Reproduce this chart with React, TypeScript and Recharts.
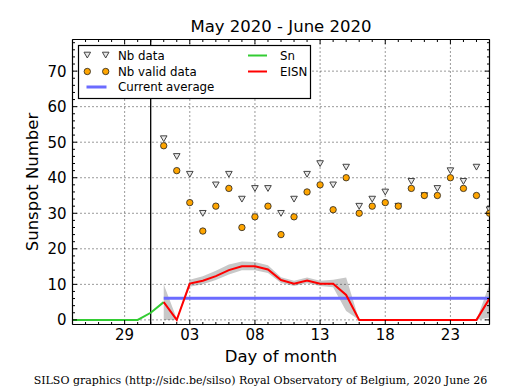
import React from 'react';
import { ComposedChart, Line, Area, Scatter, XAxis, YAxis, ReferenceLine } from 'recharts';

// Day index 0 = May 25 ... 32 = June 26
const dayLabels: Record<number, string> = { 4: '29', 9: '03', 14: '08', 19: '13', 24: '18', 29: '23' };
const majorXTicks = [4, 9, 14, 19, 24, 29];
const minorXTicks = Array.from({ length: 33 }, (_, i) => i);
const majorYTicks = [0, 10, 20, 30, 40, 50, 60, 70];
const minorYTicks = Array.from({ length: 40 }, (_, i) => i * 2);

// Sn (green) May 25 .. June 1
const snValues = [0, 0, 0, 0, 0, 0, 2, 5];
// June 1 .. June 26
const eisnValues = [5, 0, 10.2, 11, 12.3, 14, 15.1, 15.1, 14.2, 11.2, 10.2, 11.1, 10.2, 10.2, 7, 0, 0, 0, 0, 0, 0, 0, 0, 0, 0, 6];
const bandLow = [0, 0, 9.3, 10, 11.2, 12.8, 14, 14, 13.2, 10.4, 9.5, 10.3, 9.5, 9.2, 2.5, 0, 0, 0, 0, 0, 0, 0, 0, 0, 0, 0.7];
const bandHigh = [10, 0.3, 11.3, 12.3, 13.8, 15.6, 16.4, 16.3, 15.4, 12, 11, 11.9, 11, 11.3, 11.9, 0, 0, 0, 0, 0, 0, 0, 0, 0, 0, 10];
const nbData = [51, 46, 41, 30, 38, 41, 34, 37, 37, 30, 34, 41, 44, 38, 43, 32, 34, 36, 32, 39, 35, 37, 42, 39, 43, 31];
const nbValid = [49, 42, 33, 25, 32, 37, 26, 29, 32, 24, 29, 36, 38, 31, 40, 30, 32, 33, 32, 37, 35, 35, 40, 37, 35, 30];
const currentAverage = 6.1;
const firstJuneIdx = 7;
const monthBoundary = 6;

const rows = minorXTicks.map((x) => {
  const j = x - firstJuneIdx;
  const inJune = j >= 0 && j < eisnValues.length;
  return {
    x,
    sn: x < snValues.length ? snValues[x] : null,
    eisn: inJune ? eisnValues[j] : null,
    band: inJune ? [bandLow[j], bandHigh[j]] : null,
    avg: inJune ? currentAverage : null,
  };
});
const nbPoints = nbData.map((y, j) => ({ x: j + firstJuneIdx, y }));
const nbValidPoints = nbValid.map((y, j) => ({ x: j + firstJuneIdx, y }));

const FONT = 'DejaVu Sans';

const makeTick = (side: string, majors: number[], labels?: (v: number) => string | null) => (props: any) => {
  const { x, y, payload } = props;
  const v = payload.value;
  const major = majors.includes(v);
  const len = major ? 4.5 : 2.5;
  let line: any = null;
  if (side === 'bottom') line = <line x1={x} y1={y} x2={x} y2={y - len} stroke="#000" />;
  if (side === 'top') line = <line x1={x} y1={y} x2={x} y2={y + len} stroke="#000" />;
  if (side === 'left') line = <line x1={x} y1={y} x2={x + len} y2={y} stroke="#000" />;
  if (side === 'right') line = <line x1={x} y1={y} x2={x - len} y2={y} stroke="#000" />;
  const label = major && labels ? labels(v) : null;
  let text: any = null;
  if (label != null) {
    if (side === 'bottom')
      text = (
        <text x={x} y={y + 15.5} textAnchor="middle" fontFamily={FONT} fontSize={15} fill="#000">
          {label}
        </text>
      );
    if (side === 'left')
      text = (
        <text x={x - 6} y={y + 5.4} textAnchor="end" fontFamily={FONT} fontSize={15} fill="#000">
          {label}
        </text>
      );
  }
  return (
    <g>
      {line}
      {text}
    </g>
  );
};

const triangle = (props: any) => {
  const { cx, cy } = props;
  if (cx == null || cy == null) return <g />;
  return <path d={`M${cx - 3.3},${cy - 2.8} L${cx + 3.3},${cy - 2.8} L${cx},${cy + 3} Z`} fill="#e8e8e8" stroke="#444" strokeWidth={1} />;
};
const circle = (props: any) => {
  const { cx, cy } = props;
  if (cx == null || cy == null) return <g />;
  return <circle cx={cx} cy={cy} r={3.2} fill="#ffa500" stroke="#222" strokeWidth={0.8} />;
};

export default function App() {
  return (
    <div style={{ position: 'absolute', left: 0, top: 0, width: 515, height: 390, background: '#fff' }}>
      <ComposedChart width={515} height={390} data={rows} margin={{ top: 29.5, right: 15.5, bottom: 35.5, left: 32.5 }}>
        <XAxis
          xAxisId="b"
          dataKey="x"
          type="number"
          domain={[0, 32]}
          ticks={minorXTicks}
          interval={0}
          height={30}
          tickSize={0}
          tickMargin={0}
          tickLine={false}
          axisLine={{ stroke: '#000', strokeWidth: 1.2 }}
          tick={makeTick('bottom', majorXTicks, (v) => dayLabels[v] ?? null)}
          allowDataOverflow
        />
        <XAxis
          xAxisId="t"
          orientation="top"
          dataKey="x"
          type="number"
          domain={[0, 32]}
          ticks={minorXTicks}
          interval={0}
          height={10}
          tickSize={0}
          tickMargin={0}
          tickLine={false}
          axisLine={{ stroke: '#000', strokeWidth: 1.2 }}
          tick={makeTick('top', majorXTicks)}
          allowDataOverflow
        />
        <YAxis
          yAxisId="l"
          type="number"
          domain={[-1.3, 78.9]}
          ticks={minorYTicks}
          interval={0}
          width={40}
          tickSize={0}
          tickMargin={0}
          tickLine={false}
          axisLine={{ stroke: '#000', strokeWidth: 1.2 }}
          tick={makeTick('left', majorYTicks, (v) => String(v))}
          allowDataOverflow
        />
        <YAxis
          yAxisId="r"
          orientation="right"
          type="number"
          domain={[-1.3, 78.9]}
          ticks={minorYTicks}
          interval={0}
          width={10}
          tickSize={0}
          tickMargin={0}
          tickLine={false}
          axisLine={{ stroke: '#000', strokeWidth: 1.2 }}
          tick={makeTick('right', majorYTicks)}
          allowDataOverflow
        />
        {majorXTicks.map((v) => (
          <ReferenceLine key={'gx' + v} xAxisId="b" yAxisId="l" x={v} stroke="#000" strokeWidth={0.8} strokeDasharray="1 3" />
        ))}
        {majorYTicks.map((v) => (
          <ReferenceLine key={'gy' + v} xAxisId="b" yAxisId="l" y={v} stroke="#000" strokeWidth={0.8} strokeDasharray="1 3" />
        ))}
        <ReferenceLine xAxisId="b" yAxisId="l" x={monthBoundary} stroke="#000" strokeWidth={1.3} />
        <Area xAxisId="b" yAxisId="l" dataKey="band" type="linear" stroke="none" fill="#c8c8c8" fillOpacity={1} isAnimationActive={false} connectNulls={false} />
        <Line xAxisId="b" yAxisId="l" dataKey="avg" type="linear" stroke="#6b6bff" strokeWidth={3} dot={false} isAnimationActive={false} />
        <Line xAxisId="b" yAxisId="l" dataKey="sn" type="linear" stroke="#33cc33" strokeWidth={2} dot={false} isAnimationActive={false} />
        <Line xAxisId="b" yAxisId="l" dataKey="eisn" type="linear" stroke="#ff0000" strokeWidth={2} dot={false} isAnimationActive={false} />
        <Scatter xAxisId="b" yAxisId="l" data={nbPoints} dataKey="y" shape={triangle} isAnimationActive={false} />
        <Scatter xAxisId="b" yAxisId="l" data={nbValidPoints} dataKey="y" shape={circle} isAnimationActive={false} />
      </ComposedChart>
      <svg width={515} height={390} style={{ position: 'absolute', left: 0, top: 0, pointerEvents: 'none' }}>
        <text x={281} y={31.5} textAnchor="middle" fontFamily={FONT} fontSize={16.5} fill="#000">
          May 2020 - June 2020
        </text>
        <text x={281} y={362} textAnchor="middle" fontFamily={FONT} fontSize={16.5} fill="#000">
          Day of month
        </text>
        <text transform="translate(38,182) rotate(-90)" x={0} y={0} textAnchor="middle" fontFamily={FONT} fontSize={16.5} fill="#000">
          Sunspot Number
        </text>
        <text x={260.5} y={384} textAnchor="middle" fontFamily="DejaVu Serif" fontSize={11} fill="#000">
          SILSO graphics (http://sidc.be/silso) Royal Observatory of Belgium, 2020 June 26
        </text>
        <g>
          <rect x={78.5} y={45.5} width={232} height={53} fill="#fff" stroke="#000" strokeWidth={1.2} />
          <path d="M84,52.2 L90.6,52.2 L87.3,58 Z" fill="#e8e8e8" stroke="#444" />
          <path d="M102.4,52.2 L109,52.2 L105.7,58 Z" fill="#e8e8e8" stroke="#444" />
          <text x={118} y={59.5} fontFamily={FONT} fontSize={11.8} fill="#000">Nb data</text>
          <circle cx={87.3} cy={71.5} r={3.2} fill="#ffa500" stroke="#222" strokeWidth={0.8} />
          <circle cx={105.7} cy={71.5} r={3.2} fill="#ffa500" stroke="#222" strokeWidth={0.8} />
          <text x={118} y={75.8} fontFamily={FONT} fontSize={11.8} fill="#000">Nb valid data</text>
          <line x1={86.5} y1={87} x2={106.5} y2={87} stroke="#6b6bff" strokeWidth={3} />
          <text x={118} y={91.3} fontFamily={FONT} fontSize={11.8} fill="#000">Current average</text>
          <line x1={248} y1={55.5} x2={267} y2={55.5} stroke="#33cc33" strokeWidth={2} />
          <text x={280} y={59.5} fontFamily={FONT} fontSize={11.8} fill="#000">Sn</text>
          <line x1={248} y1={71.5} x2={267} y2={71.5} stroke="#ff0000" strokeWidth={2} />
          <text x={280} y={75.8} fontFamily={FONT} fontSize={11.8} fill="#000">EISN</text>
        </g>
      </svg>
    </div>
  );
}
